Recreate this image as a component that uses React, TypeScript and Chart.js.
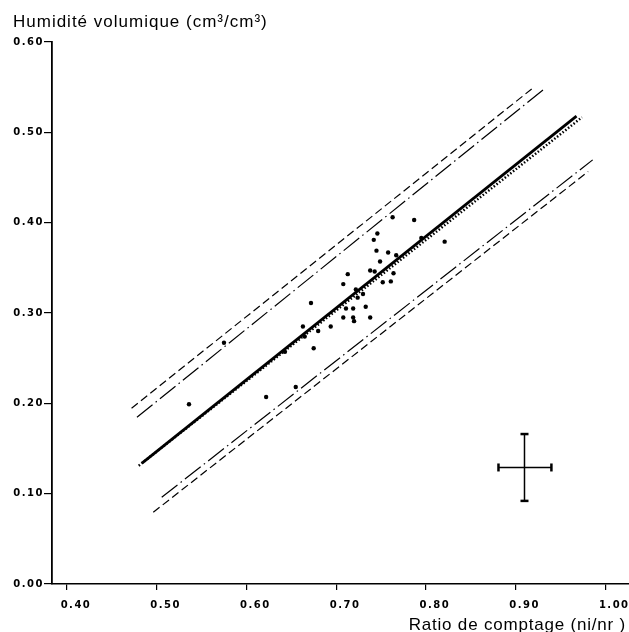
import * as React from 'react';
import Chart from 'chart.js/auto';

// axes
const xTicks = [0.4, 0.5, 0.6, 0.7, 0.8, 0.9, 1.0];
const yTicks = [0, 0.1, 0.2, 0.3, 0.4, 0.5, 0.6];
const yTitle = 'Humidité volumique (cm³/cm³)';
const xTitle = 'Ratio de comptage (ni/nr )';

// mesures (ratio, humidité)
const obsX = [0.763, 0.787, 0.746, 0.742, 0.821, 0.745, 0.758, 0.749, 0.767, 0.738, 0.743, 0.764, 0.713,
    0.752, 0.761, 0.708, 0.722, 0.730, 0.724, 0.672, 0.711, 0.719, 0.733, 0.708, 0.719, 0.720, 0.738,
    0.663, 0.694, 0.680, 0.665, 0.675, 0.643, 0.622, 0.655, 0.536, 0.575, 0.795];
const obsY = [0.406, 0.403, 0.388, 0.381, 0.379, 0.369, 0.367, 0.357, 0.364, 0.347, 0.346, 0.344, 0.343,
    0.334, 0.335, 0.332, 0.326, 0.321, 0.317, 0.311, 0.305, 0.305, 0.307, 0.295, 0.295, 0.291, 0.295,
    0.285, 0.285, 0.280, 0.274, 0.261, 0.257, 0.207, 0.218, 0.199, 0.267, 0.383];

// droite d'étalonnage et droite pointillée
const fitX = [0.484, 0.968];
const fitY = [0.134, 0.518];
const dotX = [0.480, 0.974];
const dotY = [0.131, 0.5166];

// intervalles
const upOuterX = [0.472, 0.918];
const upOuterY = [0.1946, 0.548];
const upInnerX = [0.478, 0.932];
const upInnerY = [0.1846, 0.548];
const lowInnerX = [0.5056, 0.986];
const lowInnerY = [0.096, 0.4695];
const lowOuterX = [0.4962, 0.981];
const lowOuterY = [0.0794, 0.4566];

// croix d'erreur
const errCx = 0.91;
const errCy = 0.129;
const errXs = [0.881, 0.940];
const errYs = [0.092, 0.166];

const pts = (xs: number[], ys: number[]) => xs.map((x, i) => ({ x, y: ys[i] }));

const lineDs = (data: { x: number; y: number }[], dash: number[], width: number) => ({
    data,
    showLine: true,
    borderColor: '#000',
    borderWidth: width,
    borderDash: dash,
    pointRadius: 0,
    fill: false,
});

const textPlugin = {
    id: 'texts',
    beforeDraw: (chart: any) => {
        chart.ctx.letterSpacing = '1.5px';
    },
    afterDraw: (chart: any) => {
        const ctx = chart.ctx;
        ctx.save();
        ctx.fillStyle = '#000';
        ctx.textBaseline = 'alphabetic';
        ctx.font = '17px "Liberation Sans", Arial, sans-serif';
        ctx.letterSpacing = '1px';
        ctx.textAlign = 'left';
        ctx.fillText(yTitle, 13, 26.5);
        ctx.letterSpacing = '0.8px';
        ctx.textAlign = 'right';
        ctx.fillText(xTitle, 626, 630);
        ctx.restore();
        ctx.letterSpacing = '0px';
    },
};

export default function App() {
    const canvasRef = React.useRef<HTMLCanvasElement>(null);

    React.useEffect(() => {
        if (!canvasRef.current) return;
        const tickFont = { family: '"DejaVu Sans", sans-serif', size: 10, weight: 'bold' as const };

        const chart = new Chart(canvasRef.current, {
            type: 'scatter',
            data: {
                datasets: [
                    lineDs(pts(upOuterX, upOuterY), [8, 4], 1.2),
                    lineDs(pts(upInnerX, upInnerY), [20, 4, 1.5, 4], 1.2),
                    lineDs(pts(lowInnerX, lowInnerY), [20, 4, 1.5, 4], 1.2),
                    lineDs(pts(lowOuterX, lowOuterY), [8, 4], 1.2),
                    lineDs(pts(dotX, dotY), [1.5, 2], 2.5),
                    lineDs(pts(fitX, fitY), [], 2.8),
                    {
                        data: pts(obsX, obsY),
                        backgroundColor: '#000',
                        borderColor: '#000',
                        pointRadius: 2.2,
                        borderWidth: 0,
                    },
                    {
                        data: [{ x: errXs[0], y: errCy }, { x: errXs[1], y: errCy }],
                        showLine: true,
                        borderColor: '#000',
                        borderWidth: 1.5,
                        pointStyle: 'line',
                        pointRotation: 90,
                        pointRadius: 4,
                        pointBorderWidth: 2.5,
                        pointBorderColor: '#000',
                    },
                    {
                        data: [{ x: errCx, y: errYs[0] }, { x: errCx, y: errYs[1] }],
                        showLine: true,
                        borderColor: '#000',
                        borderWidth: 1.5,
                        pointStyle: 'line',
                        pointRadius: 4,
                        pointBorderWidth: 2.5,
                        pointBorderColor: '#000',
                    },
                ],
            },
            options: {
                animation: false,
                responsive: true,
                maintainAspectRatio: false,
                layout: { autoPadding: false, padding: { top: 42, left: 0, right: 0, bottom: 0 } },
                plugins: {
                    legend: { display: false },
                    tooltip: { enabled: false },
                },
                scales: {
                    x: {
                        type: 'linear',
                        min: 0.3833,
                        max: 1.0265,
                        afterFit: (s: any) => {
                            s.height = 48;
                            s.paddingRight = 0;
                            s.paddingLeft = 0;
                        },
                        afterBuildTicks: (s: any) => { s.ticks = xTicks.map(v => ({ value: v })); },
                        border: { display: true, color: '#000', width: 1.5 },
                        grid: { display: true, drawOnChartArea: false, drawTicks: true, tickLength: 6, color: '#000', lineWidth: 1.2 },
                        ticks: {
                            color: '#000',
                            font: tickFont,
                            padding: 9,
                            labelOffset: 9,
                            maxRotation: 0,
                            autoSkip: false,
                            callback: (v: any) => Number(v).toFixed(2),
                        },
                    },
                    y: {
                        type: 'linear',
                        min: 0,
                        max: 0.6,
                        afterFit: (s: any) => {
                            s.width = 52;
                            s.paddingTop = 0;
                            s.paddingBottom = 0;
                        },
                        afterBuildTicks: (s: any) => { s.ticks = yTicks.map(v => ({ value: v })); },
                        border: { display: true, color: '#000', width: 1.8 },
                        grid: { display: true, drawOnChartArea: false, drawTicks: true, tickLength: 8, color: '#000', lineWidth: 1.2 },
                        ticks: {
                            color: '#000',
                            font: tickFont,
                            padding: 0,
                            autoSkip: false,
                            callback: (v: any) => Number(v).toFixed(2),
                        },
                    },
                },
            },
            plugins: [textPlugin],
        });

        return () => {
            chart.destroy();
        };
    }, []);

    return (
        <div style={{ position: 'fixed', left: 0, top: 0, width: 629, height: 632, background: '#fff' }}>
            <canvas ref={canvasRef}></canvas>
        </div>
    );
}
